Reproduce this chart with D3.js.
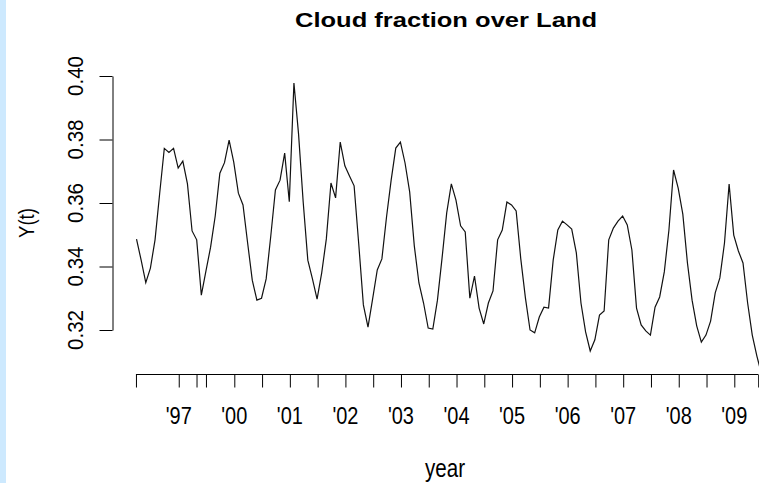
<!DOCTYPE html>
<html>
<head>
<meta charset="utf-8">
<script src="https://cdn.jsdelivr.net/npm/d3@7"></script>
<style>
  html, body { margin: 0; padding: 0; background: #fff; }
  svg { display: block; }
  text { font-family: "Liberation Sans", Arial, sans-serif; fill: #000; }
</style>
</head>
<body>
<svg id="chart" width="759" height="483"></svg>
<script>
// ---- data ----
const title = "Cloud fraction over Land";
const xLabel = "year";
const yLabel = "Y(t)";
const startYear = 1998.24;   // time of first monthly observation (axis units)
const values = [
  0.3486, 0.3420, 0.3349, 0.3395, 0.3484, 0.3630, 0.3772, 0.3759, 0.3772, 0.3710, 0.3732, 0.3660,
  0.3512, 0.3484, 0.3310, 0.3386, 0.3461, 0.3559, 0.3694, 0.3727, 0.3798, 0.3729, 0.3631, 0.3594,
  0.3474, 0.3357, 0.3294, 0.3300, 0.3361, 0.3496, 0.3641, 0.3672, 0.3757, 0.3604, 0.3978, 0.3817,
  0.3603, 0.3420, 0.3361, 0.3297, 0.3380, 0.3487, 0.3663, 0.3616, 0.3792, 0.3717, 0.3685, 0.3654,
  0.3471, 0.3279, 0.3209, 0.3298, 0.3389, 0.3424, 0.3556, 0.3672, 0.3773, 0.3792, 0.3726, 0.3635,
  0.3465, 0.3348, 0.3285, 0.3206, 0.3203, 0.3294, 0.3427, 0.3569, 0.3660, 0.3609, 0.3528, 0.3509,
  0.3300, 0.3370, 0.3269, 0.3219, 0.3285, 0.3323, 0.3484, 0.3515, 0.3603, 0.3594, 0.3575, 0.3424,
  0.3301, 0.3200, 0.3191, 0.3241, 0.3272, 0.3269, 0.3420, 0.3515, 0.3543, 0.3531, 0.3518, 0.3443,
  0.3285, 0.3194, 0.3134, 0.3169, 0.3247, 0.3260, 0.3484, 0.3521, 0.3543, 0.3559, 0.3531, 0.3452,
  0.3269, 0.3216, 0.3197, 0.3184, 0.3272, 0.3304, 0.3383, 0.3515, 0.3704, 0.3647, 0.3565, 0.3411,
  0.3294, 0.3213, 0.3162, 0.3184, 0.3228, 0.3317, 0.3364, 0.3474, 0.3660, 0.3499, 0.3449, 0.3411,
  0.3285, 0.3184, 0.3118, 0.3061
];
const yTicks = [0.32, 0.34, 0.36, 0.38, 0.40];
const yTickLabels = ["0.32", "0.34", "0.36", "0.38", "0.40"];
const xTicks = [1998.23, 1999.0, 1999.32, 1999.49, 2000, 2000.5, 2001, 2001.5, 2002, 2002.5,
  2003, 2003.5, 2004, 2004.5, 2005, 2005.5, 2006, 2006.5, 2007, 2007.5, 2008, 2008.5, 2009, 2009.43];
const xLabelPos = [1999, 2000, 2001, 2002, 2003, 2004, 2005, 2006, 2007, 2008, 2009];
const xLabelText = ["'97", "'00", "'01", "'02", "'03", "'04", "'05", "'06", "'07", "'08", "'09"];

// ---- drawing ----
const svg = d3.select("#chart");
const W = 759, H = 483;

svg.append("rect").attr("x", 0).attr("y", 0).attr("width", 6).attr("height", H).attr("fill", "#cde9fe");

const x = d3.scaleLinear().domain([2000, 2009]).range([234.3, 734.3]);
const y = d3.scaleLinear().domain([0.32, 0.40]).range([330, 76]);

const series = values.map((v, i) => ({ t: startYear + i / 12, v }));

svg.append("clipPath").attr("id", "clip").append("rect").attr("x", 0).attr("y", 0).attr("width", W).attr("height", H);

svg.append("path")
  .datum(series)
  .attr("clip-path", "url(#clip)")
  .attr("fill", "none")
  .attr("stroke", "#111")
  .attr("stroke-width", 1.2)
  .attr("d", d3.line().x(d => x(d.t)).y(d => y(d.v)));

// Y axis
const yAxis = d3.axisLeft(y).tickValues(yTicks).tickFormat("").tickSize(13).tickSizeOuter(0);
const gy = svg.append("g").attr("transform", "translate(112.5,0)").call(yAxis);
gy.select(".domain").attr("stroke", "#000");
gy.selectAll(".tick line").attr("stroke", "#000");

svg.append("g").selectAll("text").data(yTicks).join("text")
  .attr("transform", d => `translate(83,${y(d)}) rotate(-90)`)
  .attr("text-anchor", "middle")
  .attr("font-size", 22)
  .attr("textLength", 40)
  .attr("lengthAdjust", "spacingAndGlyphs")
  .text((d, i) => yTickLabels[i]);

// X axis
const xAxis = d3.axisBottom(x).tickValues(xTicks).tickFormat("").tickSize(13).tickSizeOuter(0);
const gx = svg.append("g").attr("transform", "translate(0,374.5)").call(xAxis);
gx.select(".domain").remove();
gx.selectAll(".tick line").attr("stroke", "#000");
gx.append("line")
  .attr("x1", x(xTicks[0])).attr("x2", x(xTicks[xTicks.length - 1]))
  .attr("y1", 0).attr("y2", 0).attr("stroke", "#000");

svg.append("g").selectAll("text").data(xLabelPos).join("text")
  .attr("x", d => x(d))
  .attr("y", 424)
  .attr("text-anchor", "middle")
  .attr("font-size", 23)
  .attr("textLength", 26)
  .attr("lengthAdjust", "spacingAndGlyphs")
  .text((d, i) => xLabelText[i]);

// axis titles
svg.append("text")
  .attr("x", 445).attr("y", 476.5)
  .attr("text-anchor", "middle")
  .attr("font-size", 25)
  .attr("textLength", 40)
  .attr("lengthAdjust", "spacingAndGlyphs")
  .text(xLabel);

svg.append("text")
  .attr("transform", "translate(33.5,223) rotate(-90)")
  .attr("text-anchor", "middle")
  .attr("font-size", 22)
  .attr("textLength", 30)
  .attr("lengthAdjust", "spacingAndGlyphs")
  .text(yLabel);

// title
svg.append("text")
  .attr("x", 446).attr("y", 26.7)
  .attr("text-anchor", "middle")
  .attr("font-size", 21)
  .attr("font-weight", "bold")
  .attr("textLength", 302)
  .attr("lengthAdjust", "spacingAndGlyphs")
  .text(title);
</script>
</body>
</html>
